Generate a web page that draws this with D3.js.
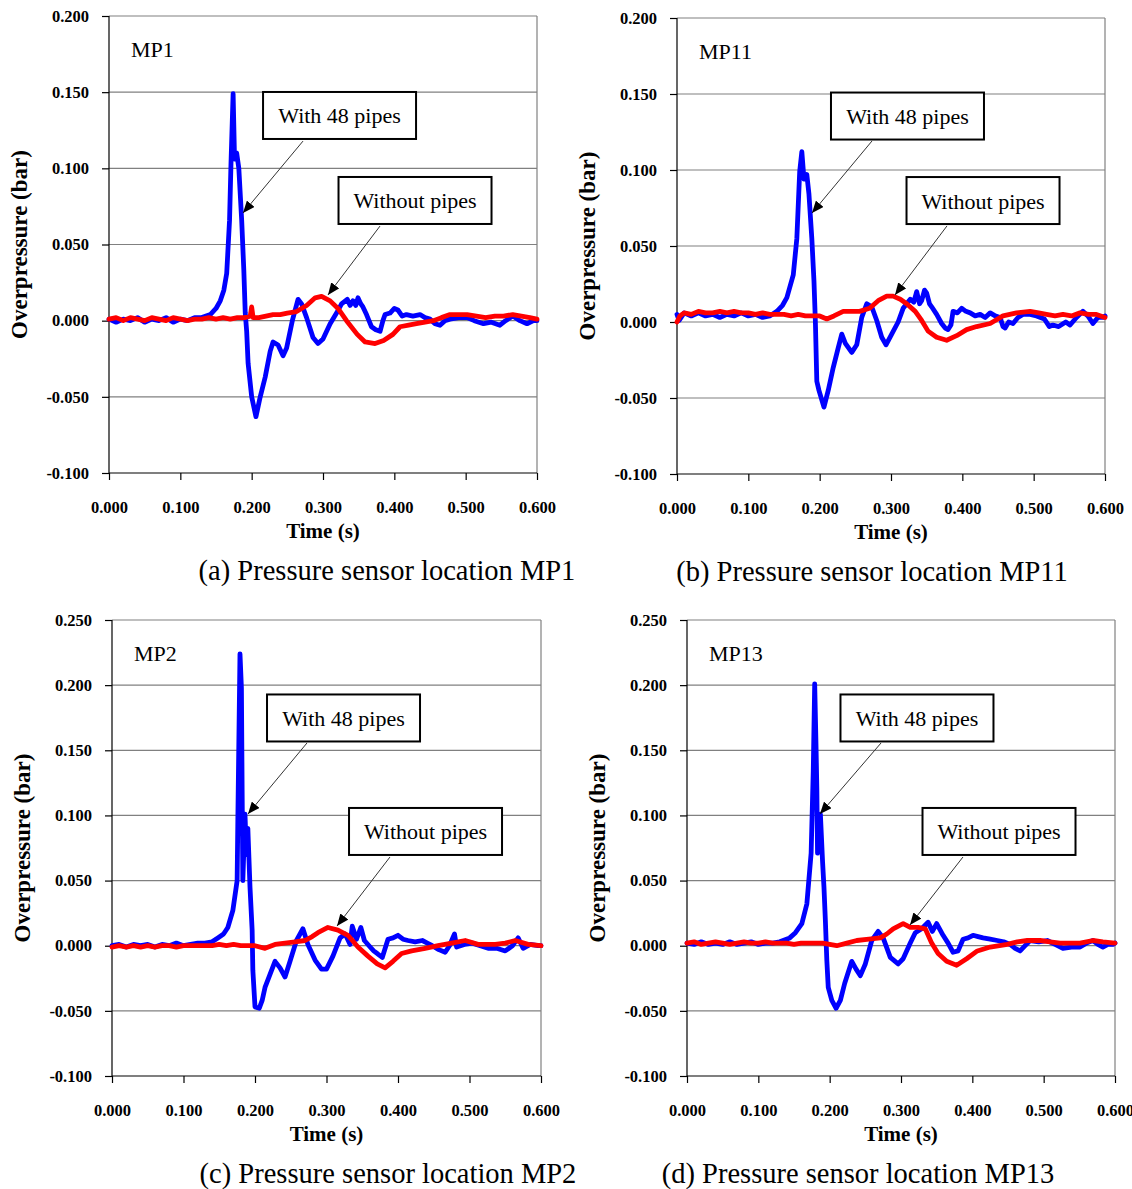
<!DOCTYPE html>
<html>
<head>
<meta charset="utf-8">
<script src="https://cdn.jsdelivr.net/npm/d3@7"></script>
<style>
  html, body { margin: 0; padding: 0; background: #fff; }
  svg { display: block; }
</style>
</head>
<body>
<svg id="chart" width="1132" height="1189"></svg>
<script>
// ---------------- DATA ----------------
const xTicks = [0, 0.1, 0.2, 0.3, 0.4, 0.5, 0.6];
const yTicksTop = [-0.1, -0.05, 0, 0.05, 0.1, 0.15, 0.2];
const yTicksBottom = [-0.1, -0.05, 0, 0.05, 0.1, 0.15, 0.2, 0.25];
const seriesNames = ["With 48 pipes", "Without pipes"];
const sensorLabels = ["MP1", "MP11", "MP2", "MP13"];
const captions = [
  "(a) Pressure sensor location MP1",
  "(b) Pressure sensor location MP11",
  "(c) Pressure sensor location MP2",
  "(d) Pressure sensor location MP13"
];

// [time (s), overpressure (bar)]
const mp1With = [[0,0.001],[0.01,-0.001],[0.02,0.001],[0.03,0],[0.04,0.002],[0.05,-0.001],[0.06,0.001],[0.07,0],[0.08,0.002],[0.09,-0.001],[0.10,0.001],[0.11,0],[0.12,0.002],[0.13,0.002],[0.142,0.004],[0.150,0.008],[0.156,0.013],[0.161,0.020],[0.165,0.031],[0.169,0.066],[0.171,0.103],[0.174,0.149],[0.176,0.106],[0.179,0.110],[0.182,0.100],[0.186,0.066],[0.189,0.033],[0.191,0.005],[0.193,-0.007],[0.195,-0.028],[0.200,-0.050],[0.206,-0.063],[0.212,-0.050],[0.219,-0.037],[0.226,-0.020],[0.230,-0.014],[0.237,-0.016],[0.244,-0.023],[0.249,-0.018],[0.257,0],[0.265,0.014],[0.270,0.011],[0.277,0.002],[0.286,-0.011],[0.293,-0.015],[0.300,-0.012],[0.310,-0.002],[0.319,0.005],[0.326,0.011],[0.334,0.014],[0.338,0.010],[0.342,0.013],[0.346,0.010],[0.349,0.015],[0.353,0.011],[0.356,0.009],[0.361,0.004],[0.368,-0.004],[0.374,-0.006],[0.380,-0.007],[0.384,0.000],[0.387,0.004],[0.394,0.005],[0.400,0.008],[0.405,0.007],[0.411,0.003],[0.417,0.004],[0.426,0.003],[0.436,0.004],[0.443,0.002],[0.450,0.001],[0.457,-0.002],[0.464,-0.003],[0.471,0.000],[0.478,0.001],[0.490,0.002],[0.502,0.002],[0.512,0.000],[0.525,-0.002],[0.536,-0.001],[0.548,-0.003],[0.556,0.000],[0.566,0.003],[0.576,0.000],[0.586,-0.002],[0.595,0.000],[0.600,0.000]];
const mp1Without = [[0,0.001],[0.01,0.002],[0.02,0.000],[0.03,0.002],[0.04,0.001],[0.05,0.000],[0.06,0.002],[0.07,0.001],[0.08,0.000],[0.09,0.002],[0.10,0.001],[0.11,0.000],[0.12,0.001],[0.13,0.001],[0.14,0.002],[0.15,0.001],[0.16,0.002],[0.17,0.001],[0.18,0.002],[0.19,0.002],[0.198,0.003],[0.200,0.009],[0.202,0.002],[0.21,0.002],[0.22,0.003],[0.23,0.004],[0.24,0.004],[0.25,0.005],[0.263,0.006],[0.277,0.010],[0.289,0.015],[0.298,0.016],[0.310,0.013],[0.321,0.008],[0.333,0.000],[0.348,-0.009],[0.359,-0.014],[0.373,-0.015],[0.385,-0.013],[0.398,-0.009],[0.408,-0.004],[0.420,-0.003],[0.431,-0.002],[0.443,-0.001],[0.455,0.000],[0.466,0.002],[0.478,0.004],[0.490,0.004],[0.502,0.004],[0.515,0.003],[0.528,0.002],[0.541,0.003],[0.553,0.003],[0.566,0.004],[0.578,0.003],[0.590,0.002],[0.600,0.001]];

const mp11With = [[0,0.005],[0.003,0.001],[0.01,0.006],[0.02,0.004],[0.03,0.006],[0.04,0.004],[0.05,0.005],[0.06,0.003],[0.07,0.005],[0.08,0.004],[0.09,0.006],[0.10,0.004],[0.11,0.005],[0.12,0.003],[0.13,0.004],[0.140,0.007],[0.148,0.011],[0.154,0.016],[0.163,0.031],[0.168,0.055],[0.172,0.099],[0.175,0.112],[0.178,0.094],[0.182,0.097],[0.185,0.084],[0.189,0.055],[0.192,0.027],[0.194,0.000],[0.196,-0.039],[0.199,-0.045],[0.206,-0.056],[0.212,-0.045],[0.219,-0.030],[0.226,-0.017],[0.231,-0.008],[0.236,-0.014],[0.245,-0.020],[0.252,-0.015],[0.259,0.003],[0.266,0.012],[0.273,0.010],[0.280,0.001],[0.287,-0.010],[0.293,-0.015],[0.301,-0.008],[0.310,0.000],[0.317,0.009],[0.327,0.015],[0.332,0.013],[0.336,0.020],[0.340,0.012],[0.343,0.014],[0.347,0.021],[0.350,0.019],[0.354,0.012],[0.357,0.010],[0.364,0.005],[0.371,-0.001],[0.376,-0.004],[0.380,-0.005],[0.384,-0.002],[0.387,0.007],[0.393,0.006],[0.399,0.009],[0.405,0.007],[0.411,0.006],[0.418,0.004],[0.425,0.005],[0.432,0.003],[0.439,0.006],[0.446,0.004],[0.453,0.003],[0.457,-0.003],[0.460,-0.004],[0.465,0.000],[0.471,-0.001],[0.478,0.003],[0.485,0.005],[0.495,0.005],[0.504,0.004],[0.515,0.002],[0.522,-0.003],[0.527,-0.002],[0.535,-0.003],[0.545,0.000],[0.551,-0.002],[0.560,0.003],[0.569,0.007],[0.576,0.004],[0.583,-0.001],[0.590,0.003],[0.597,0.003],[0.600,0.004]];
const mp11Without = [[0,0.000],[0.004,0.004],[0.01,0.006],[0.02,0.005],[0.03,0.007],[0.04,0.006],[0.05,0.006],[0.06,0.007],[0.07,0.006],[0.08,0.007],[0.09,0.006],[0.10,0.006],[0.11,0.005],[0.12,0.006],[0.13,0.005],[0.14,0.005],[0.15,0.005],[0.16,0.004],[0.17,0.005],[0.18,0.004],[0.19,0.004],[0.20,0.004],[0.210,0.002],[0.220,0.004],[0.233,0.007],[0.245,0.007],[0.256,0.007],[0.270,0.009],[0.282,0.014],[0.294,0.017],[0.303,0.017],[0.313,0.015],[0.322,0.012],[0.334,0.007],[0.343,0.001],[0.352,-0.006],[0.364,-0.010],[0.378,-0.012],[0.392,-0.009],[0.406,-0.005],[0.420,-0.003],[0.439,-0.001],[0.457,0.004],[0.476,0.006],[0.495,0.007],[0.507,0.006],[0.518,0.005],[0.530,0.004],[0.541,0.005],[0.553,0.004],[0.565,0.006],[0.577,0.005],[0.588,0.005],[0.600,0.003]];

const mp2With = [[0,0.000],[0.01,0.001],[0.02,-0.001],[0.03,0.001],[0.04,0.000],[0.05,0.001],[0.06,-0.001],[0.07,0.001],[0.08,0.000],[0.09,0.002],[0.10,0.000],[0.11,0.001],[0.12,0.002],[0.13,0.002],[0.140,0.003],[0.148,0.006],[0.156,0.009],[0.162,0.014],[0.169,0.027],[0.175,0.050],[0.176,0.096],[0.179,0.224],[0.181,0.198],[0.182,0.120],[0.183,0.050],[0.186,0.101],[0.188,0.070],[0.190,0.090],[0.193,0.045],[0.196,0.012],[0.197,-0.019],[0.200,-0.047],[0.206,-0.048],[0.210,-0.042],[0.214,-0.032],[0.221,-0.022],[0.228,-0.012],[0.235,-0.017],[0.242,-0.024],[0.249,-0.012],[0.258,0.004],[0.267,0.013],[0.274,0.001],[0.284,-0.011],[0.293,-0.018],[0.300,-0.018],[0.309,-0.008],[0.319,0.006],[0.326,0.009],[0.333,0.001],[0.336,0.015],[0.342,0.005],[0.348,0.014],[0.353,0.004],[0.361,-0.001],[0.366,-0.004],[0.371,-0.006],[0.378,-0.009],[0.386,0.005],[0.393,0.006],[0.400,0.008],[0.407,0.005],[0.414,0.004],[0.424,0.003],[0.434,0.004],[0.441,0.002],[0.448,0.000],[0.457,-0.003],[0.466,-0.005],[0.472,0.000],[0.479,0.009],[0.482,-0.001],[0.493,0.001],[0.504,0.002],[0.515,0.000],[0.526,-0.002],[0.538,-0.002],[0.550,-0.004],[0.560,0.000],[0.568,0.006],[0.575,-0.002],[0.585,0.001],[0.596,0.000],[0.600,0.000]];
const mp2Without = [[0,-0.001],[0.01,0.000],[0.02,-0.001],[0.03,0.000],[0.04,-0.001],[0.05,0.000],[0.06,-0.001],[0.07,0.000],[0.08,0.000],[0.09,-0.001],[0.10,0.000],[0.11,0.000],[0.12,0.000],[0.13,0.000],[0.14,0.000],[0.15,0.001],[0.16,0.000],[0.17,0.001],[0.18,0.000],[0.19,0.000],[0.20,0.000],[0.214,-0.002],[0.228,0.001],[0.242,0.002],[0.256,0.003],[0.270,0.004],[0.280,0.007],[0.288,0.010],[0.302,0.014],[0.316,0.012],[0.330,0.008],[0.344,-0.001],[0.358,-0.008],[0.371,-0.014],[0.382,-0.017],[0.393,-0.012],[0.405,-0.006],[0.419,-0.004],[0.438,-0.002],[0.456,0.000],[0.475,0.002],[0.494,0.004],[0.512,0.001],[0.524,0.001],[0.536,0.001],[0.550,0.002],[0.564,0.004],[0.582,0.001],[0.600,0.000]];

const mp13With = [[0,0.002],[0.01,0.001],[0.02,0.003],[0.03,0.001],[0.04,0.002],[0.05,0.001],[0.06,0.003],[0.07,0.001],[0.08,0.002],[0.09,0.003],[0.10,0.001],[0.11,0.002],[0.12,0.002],[0.13,0.003],[0.144,0.006],[0.152,0.010],[0.161,0.017],[0.168,0.032],[0.174,0.071],[0.177,0.134],[0.179,0.201],[0.181,0.150],[0.182,0.121],[0.183,0.071],[0.187,0.101],[0.190,0.065],[0.192,0.045],[0.194,0.019],[0.196,-0.011],[0.198,-0.032],[0.203,-0.042],[0.209,-0.048],[0.215,-0.042],[0.221,-0.029],[0.231,-0.012],[0.237,-0.018],[0.243,-0.023],[0.250,-0.014],[0.259,0.004],[0.268,0.011],[0.275,0.006],[0.285,-0.009],[0.296,-0.014],[0.303,-0.010],[0.313,0.002],[0.320,0.010],[0.329,0.013],[0.338,0.018],[0.344,0.011],[0.350,0.017],[0.355,0.012],[0.359,0.008],[0.366,0.002],[0.373,-0.005],[0.380,-0.004],[0.387,0.005],[0.394,0.006],[0.401,0.008],[0.408,0.007],[0.415,0.006],[0.425,0.005],[0.435,0.004],[0.444,0.003],[0.453,0.001],[0.460,-0.002],[0.467,-0.004],[0.474,0.000],[0.481,0.004],[0.493,0.003],[0.505,0.004],[0.516,0.001],[0.527,-0.002],[0.539,-0.001],[0.551,-0.001],[0.560,0.002],[0.569,0.004],[0.576,0.001],[0.583,-0.001],[0.590,0.001],[0.597,0.001],[0.600,0.002]];
const mp13Without = [[0,0.002],[0.01,0.003],[0.02,0.001],[0.03,0.002],[0.04,0.003],[0.05,0.002],[0.06,0.001],[0.07,0.002],[0.08,0.003],[0.09,0.002],[0.10,0.002],[0.11,0.003],[0.12,0.002],[0.13,0.002],[0.14,0.002],[0.15,0.001],[0.16,0.002],[0.17,0.002],[0.18,0.002],[0.19,0.002],[0.20,0.001],[0.210,0.000],[0.224,0.002],[0.238,0.004],[0.255,0.005],[0.271,0.006],[0.280,0.009],[0.289,0.013],[0.303,0.017],[0.313,0.014],[0.324,0.014],[0.334,0.013],[0.343,0.002],[0.352,-0.006],[0.364,-0.012],[0.378,-0.015],[0.392,-0.010],[0.407,-0.004],[0.425,-0.001],[0.449,0.001],[0.463,0.003],[0.477,0.004],[0.495,0.004],[0.509,0.003],[0.523,0.002],[0.537,0.002],[0.551,0.002],[0.569,0.004],[0.583,0.003],[0.600,0.002]];

// annotation anchors in data units: box centre, arrow start, arrow tip
const annWith = [
  {box:[0.3232,0.1347], from:[0.2720,0.1179], to:[0.1879,0.0707]},
  {box:[0.3231,0.1355], from:[0.2734,0.1191], to:[0.1893,0.0717]},
  {box:[0.3238,0.1748], from:[0.2727,0.1556], to:[0.1902,0.1011]},
  {box:[0.3224,0.1748], from:[0.2720,0.1556], to:[0.1864,0.1011]}
];
const annWithout = [
  {box:[0.4290,0.0789], from:[0.3799,0.0621], to:[0.3070,0.0169]},
  {box:[0.4290,0.0799], from:[0.3785,0.0632], to:[0.3056,0.0178]},
  {box:[0.4385,0.0877], from:[0.3888,0.0681], to:[0.3147,0.0151]},
  {box:[0.4374,0.0877], from:[0.3869,0.0681], to:[0.3126,0.0159]}
];

// ---------------- LAYOUT ----------------
const layout = [
  {left:109, right:537, top:16, bottom:473, yDomain:[-0.1,0.2], yTicks:yTicksTop, capX:387},
  {left:677, right:1105, top:18, bottom:474, yDomain:[-0.1,0.2], yTicks:yTicksTop, capX:872},
  {left:112, right:541, top:620, bottom:1076, yDomain:[-0.1,0.25], yTicks:yTicksBottom, capX:388},
  {left:687, right:1115, top:620, bottom:1076, yDomain:[-0.1,0.25], yTicks:yTicksBottom, capX:858}
];
const series = [
  [mp1With, mp1Without],
  [mp11With, mp11Without],
  [mp2With, mp2Without],
  [mp13With, mp13Without]
];
const colors = ["#0000ff", "#ff0000"];
const SERIF = "'Liberation Serif', 'Times New Roman', 'DejaVu Serif', serif";

const svg = d3.select("#chart");
svg.append("defs").append("marker")
  .attr("id", "arrow").attr("viewBox", "0 0 12 10")
  .attr("refX", 12).attr("refY", 5)
  .attr("markerWidth", 12).attr("markerHeight", 10)
  .attr("markerUnits", "userSpaceOnUse")
  .attr("orient", "auto")
  .append("path").attr("d", "M0,0 L12,5 L0,10 Z").attr("fill", "#000");

const fmt3 = d3.format(".3f");
const fmt = v => fmt3(v).replace("\u2212", "-");

layout.forEach((L, i) => {
  const x = d3.scaleLinear().domain([0, 0.6]).range([L.left, L.right]);
  const y = d3.scaleLinear().domain(L.yDomain).range([L.bottom, L.top]);
  const g = svg.append("g");

  // gridlines
  g.append("g").selectAll("line").data(L.yTicks.filter(t => t > L.yDomain[0]))
    .join("line")
    .attr("x1", L.left).attr("x2", L.right)
    .attr("y1", d => y(d)).attr("y2", d => y(d))
    .attr("stroke", "#808080").attr("stroke-width", 1.2);
  // right border
  g.append("line").attr("x1", L.right).attr("x2", L.right)
    .attr("y1", L.top).attr("y2", L.bottom)
    .attr("stroke", "#808080").attr("stroke-width", 1.2);

  // axes
  const yAxis = d3.axisLeft(y).tickValues(L.yTicks).tickFormat(fmt).tickSize(7).tickPadding(13);
  const gy = g.append("g").attr("transform", `translate(${L.left},0)`).call(yAxis);
  const xAxis = d3.axisBottom(x).tickValues(xTicks).tickFormat(fmt).tickSize(7).tickPadding(21);
  const gx = g.append("g").attr("transform", `translate(0,${L.bottom})`).call(xAxis);
  [gy, gx].forEach(a => {
    a.select(".domain").attr("stroke", "#000").attr("stroke-width", 1.2);
    a.selectAll(".tick line").attr("stroke", "#000").attr("stroke-width", 1.2);
    a.selectAll(".tick text").attr("fill", "#000")
      .style("font-family", SERIF).style("font-weight", "bold").style("font-size", "16.5px");
  });
  gy.select(".domain").attr("d", `M0,${L.bottom}V${L.top}`);
  gx.select(".domain").attr("d", `M${L.left},0H${L.right}`);

  // lines
  const line = d3.line().x(d => x(d[0])).y(d => y(d[1]));
  series[i].forEach((s, k) => {
    g.append("path").datum(s)
      .attr("d", line)
      .attr("fill", "none")
      .attr("stroke", colors[k])
      .attr("stroke-width", 4.8)
      .attr("stroke-linejoin", "round")
      .attr("stroke-linecap", "round");
  });

  // sensor label
  g.append("text").attr("x", L.left + 22).attr("y", L.top + 41)
    .text(sensorLabels[i])
    .style("font-family", SERIF).style("font-size", "22px").attr("fill", "#000");

  // annotations
  [annWith[i], annWithout[i]].forEach((a, k) => {
    g.append("line")
      .attr("x1", x(a.from[0])).attr("y1", y(a.from[1]))
      .attr("x2", x(a.to[0])).attr("y2", y(a.to[1]))
      .attr("stroke", "#333").attr("stroke-width", 1)
      .attr("marker-end", "url(#arrow)");
    const cx = x(a.box[0]), cy = y(a.box[1]);
    const bw = 153, bh = 47;
    g.append("rect").attr("x", cx - bw / 2).attr("y", cy - bh / 2)
      .attr("width", bw).attr("height", bh)
      .attr("fill", "#fff").attr("stroke", "#000").attr("stroke-width", 2);
    g.append("text").attr("x", cx).attr("y", cy + 8)
      .attr("text-anchor", "middle")
      .text(seriesNames[k])
      .style("font-family", SERIF).style("font-size", "22px").attr("fill", "#000");
  });

  // axis titles
  g.append("text").attr("x", (L.left + L.right) / 2).attr("y", L.bottom + 65)
    .attr("text-anchor", "middle").text("Time (s)")
    .style("font-family", SERIF).style("font-weight", "bold").style("font-size", "21px");
  g.append("text")
    .attr("transform", `translate(${L.left - 82},${(L.top + L.bottom) / 2}) rotate(-90)`)
    .attr("text-anchor", "middle").text("Overpressure (bar)")
    .style("font-family", SERIF).style("font-weight", "bold").style("font-size", "23px");

  // caption
  g.append("text").attr("x", L.capX).attr("y", L.bottom + 107)
    .attr("text-anchor", "middle").text(captions[i])
    .style("font-family", SERIF).style("font-size", "28.5px").attr("fill", "#000");
});
</script>
</body>
</html>
